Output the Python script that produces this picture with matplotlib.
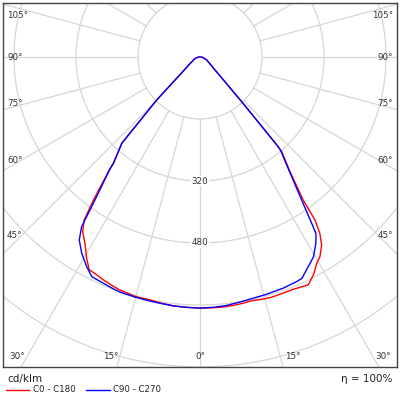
import numpy as np
import matplotlib
matplotlib.use("Agg")
import matplotlib.pyplot as plt
from matplotlib.lines import Line2D
from matplotlib.patches import Circle

# Data (cd/klm)
# C0 (right, red)
g_c0 = [0, 2.5, 5, 7.5, 10, 11.6, 14, 16.3, 19, 21.9, 23.5, 25.4, 27.5, 29.5, 31, 32.9, 34.2, 35.2, 35.8, 38.3, 40.8, 41.1, 43, 45, 50, 55, 66, 80, 90]
i_c0 = [648, 648, 648, 647, 645, 643, 645, 647, 646, 646, 648, 651, 634, 612, 601, 578, 550, 515, 455, 372, 323, 307, 158, 95, 47, 32, 19, 8, 2]
# C180 (left, red)
g_c180 = [0, 3, 6, 9, 11.6, 14.8, 16.5, 18.9, 21, 23.4, 25.4, 27.5, 29.4, 31.7, 33.9, 35.4, 36.7, 38.75, 39.2, 42.2, 45.2, 47.5, 50, 55, 60, 70, 80, 90]
i_c180 = [648, 647, 646, 643, 640, 640, 638, 636, 632, 627, 622, 619, 596, 565, 543, 516, 460, 374, 354, 301, 157, 84, 56, 35, 24, 15, 8, 2]
# C90 (right, blue)
g_c90 = [0, 3, 6, 9, 11.7, 15.5, 19.8, 23.3, 24.7, 27.3, 29.6, 31.9, 33.3, 33.7, 35.4, 38.3, 40.8, 41.1, 43, 45, 50, 55, 66, 80, 90]
i_c90 = [648, 647, 645, 641, 638, 636, 634, 631, 629, 609, 593, 566, 545, 526, 453, 368, 318, 304, 158, 95, 47, 32, 19, 8, 2]
# C270 (left, blue)
g_c270 = [0, 3, 6, 9, 11.6, 15, 18.8, 21, 23.1, 26.2, 28.4, 31.1, 33.4, 34.9, 36.3, 38.75, 39.2, 42.2, 45.2, 47.5, 50, 55, 60, 70, 80, 90]
i_c270 = [648, 647, 646, 644, 643, 642, 641, 638, 635, 632, 615, 591, 566, 534, 458, 372, 352, 300, 157, 84, 56, 35, 24, 15, 8, 2]

rings = [160, 320, 480, 640, 800, 960]
ring_labels = [320, 480]
angle_labels_left = [105, 90, 75, 60, 45]
angle_labels_bottom = [30, 15, 0, 15, 30]

S = 160 / 62.0  # cd/klm per pixel


def px(x, y):
    return (x - 200) * S, (57 - y) * S


fig = plt.figure(figsize=(4, 4), dpi=100)
ax = fig.add_axes([3 / 400, 33 / 400, 394 / 400, 364 / 400])
ax.set_xlim(-197 * S, 197 * S)
ax.set_ylim(-310 * S, 54 * S)
ax.set_aspect("equal", adjustable="box")
ax.set_xticks([])
ax.set_yticks([])
for sp in ax.spines.values():
    sp.set_color("#444444")
    sp.set_linewidth(1.0)

grid_c = "#d6d6d6"
for r in rings:
    ax.add_patch(Circle((0, 0), r, fill=False, ec=grid_c, lw=0.9, zorder=1))
for a in range(0, 360, 15):
    t = np.radians(a)
    ax.plot([rings[0] * np.sin(t), 1200 * np.sin(t)],
            [-rings[0] * np.cos(t), -1200 * np.cos(t)],
            color=grid_c, lw=0.9, zorder=1)

for v in ring_labels:
    ax.text(0, -v, str(v), ha="center", va="center", fontsize=6.3, color="#333333",
            bbox=dict(fc="white", ec="none", pad=0.6), zorder=2)

# angle labels on left/right edges
ys = [15, 57, 103, 160.5, 236]
for lab, y in zip(angle_labels_left, ys):
    x0, y0 = px(7, y)
    ax.text(x0, y0, f"{lab}°", ha="left", va="center", fontsize=6.3, color="#333333")
    x1, y1 = px(393, y)
    ax.text(x1, y1, f"{lab}°", ha="right", va="center", fontsize=6.3, color="#333333")
xs = [17, 110.5, 200, 293, 383.5]
for lab, x in zip(angle_labels_bottom, xs):
    x0, y0 = px(x, 357)
    ax.text(x0, y0, f"{lab}°", ha="center", va="center", fontsize=6.3, color="#333333")


def curve(g, i, side):
    g = np.radians(np.array(g))
    i = np.array(i, dtype=float)
    return side * i * np.sin(g), -i * np.cos(g)


xr1, yr1 = curve(g_c0, i_c0, 1)
xr2, yr2 = curve(g_c180, i_c180, -1)
xb1, yb1 = curve(g_c90, i_c90, 1)
xb2, yb2 = curve(g_c270, i_c270, -1)
ax.plot(np.concatenate([xr2[::-1], xr1]), np.concatenate([yr2[::-1], yr1]),
        color="#ff0000", lw=1.0, zorder=3)
ax.plot(np.concatenate([xb2[::-1], xb1]), np.concatenate([yb2[::-1], yb1]),
        color="#0000ff", lw=1.0, zorder=4)

# footer
fig.text(7 / 400, 1 - 379 / 400, "cd/klm", ha="left", va="center", fontsize=7.5, color="#222222")
fig.text(392 / 400, 1 - 379 / 400, "η = 100%", ha="right", va="center", fontsize=7.5, color="#222222")
fig.add_artist(Line2D([6 / 400, 29 / 400], [1 - 390 / 400] * 2, color="#ff0000", lw=1.0))
fig.text(33 / 400, 1 - 390 / 400, "C0 - C180", ha="left", va="center", fontsize=6.2, color="#222222")
fig.add_artist(Line2D([86 / 400, 110 / 400], [1 - 390 / 400] * 2, color="#0000ff", lw=1.0))
fig.text(113 / 400, 1 - 390 / 400, "C90 - C270", ha="left", va="center", fontsize=6.2, color="#222222")

fig.savefig("out.png", dpi=100)
